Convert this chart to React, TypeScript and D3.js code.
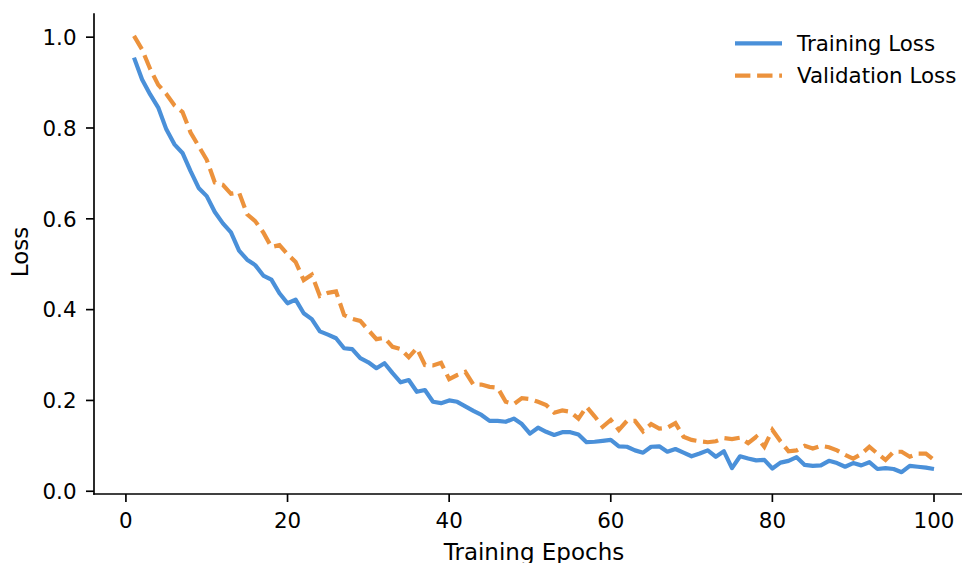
import * as d3 from "d3";

// loss values, epochs 1..100
const epochs = d3.range(1, 101);

const trainingLoss = [
  0.955, 0.907, 0.874, 0.845, 0.797, 0.764, 0.745, 0.705, 0.668, 0.65,
  0.615, 0.59, 0.57, 0.53, 0.51, 0.498, 0.475, 0.466, 0.436, 0.414,
  0.422, 0.392, 0.379, 0.352, 0.345, 0.337, 0.315, 0.313, 0.293, 0.284,
  0.271, 0.282, 0.26, 0.24, 0.245, 0.219, 0.223, 0.197, 0.194, 0.2,
  0.197, 0.187, 0.177, 0.168, 0.155, 0.155, 0.153, 0.16, 0.148, 0.127,
  0.14, 0.131, 0.124, 0.13, 0.13, 0.125, 0.108, 0.109, 0.111, 0.113,
  0.099, 0.098, 0.09, 0.085, 0.098, 0.099, 0.087, 0.093, 0.085, 0.077,
  0.083, 0.09, 0.076, 0.088, 0.051, 0.077, 0.072, 0.068, 0.069, 0.05,
  0.063, 0.067, 0.075, 0.058, 0.056, 0.057, 0.067, 0.062, 0.054, 0.062,
  0.057, 0.064, 0.049, 0.051, 0.049, 0.042, 0.056, 0.054, 0.052, 0.049,
];

const validationLoss = [
  1.003, 0.973, 0.93, 0.895, 0.875, 0.85, 0.835, 0.79, 0.76, 0.73,
  0.68, 0.675, 0.655, 0.658, 0.61, 0.595, 0.57, 0.538, 0.542, 0.522,
  0.505, 0.465, 0.477, 0.43, 0.437, 0.44, 0.388, 0.38, 0.375, 0.355,
  0.335, 0.338, 0.318, 0.313, 0.295, 0.315, 0.278, 0.277, 0.283, 0.247,
  0.256, 0.263, 0.235, 0.235, 0.23, 0.228, 0.197, 0.192, 0.205, 0.203,
  0.197, 0.19, 0.173, 0.178, 0.175, 0.16, 0.186, 0.165, 0.142, 0.157,
  0.135, 0.155, 0.155, 0.132, 0.148, 0.138, 0.14, 0.15, 0.12, 0.113,
  0.11, 0.108, 0.11, 0.117, 0.115, 0.118, 0.106, 0.12, 0.098, 0.135,
  0.11, 0.088, 0.09, 0.1, 0.094, 0.1, 0.097, 0.09, 0.08, 0.072,
  0.082, 0.098, 0.083, 0.069, 0.087, 0.087, 0.076, 0.083, 0.083, 0.069,
];

const seriesNames = ["Training Loss", "Validation Loss"];
const seriesColors = ["#4a90d9", "#ec923c"];

const W = 962;
const H = 563;
const FONT = "DejaVu Sans";
const TICK_FS = 21.4;
const LABEL_FS = 23;

function padded([lo, hi]: [number, number]): [number, number] {
  const m = (hi - lo) * 0.05;
  return [lo - m, hi + m];
}

export default function App() {
  const left = 94;
  const right = 974;
  const top = 14;
  const bottom = 494;

  const x = d3
    .scaleLinear()
    .domain(padded(d3.extent(epochs) as [number, number]))
    .range([left, right]);

  const allValues = [...trainingLoss, ...validationLoss];
  const y = d3
    .scaleLinear()
    .domain(padded(d3.extent(allValues) as [number, number]))
    .range([bottom, top]);

  const line = d3
    .line<number>()
    .x((_, i) => x(epochs[i]))
    .y((d) => y(d));

  const tickLen = 8;
  const xTicks = x.ticks(5);
  const yTicks = y.ticks(5);

  return (
    <div style={{ position: "absolute", left: 0, top: 0 }}>
      <svg width={W} height={H} style={{ display: "block", background: "#fff" }} fontFamily={FONT}>
        <path d={line(trainingLoss) ?? ""} fill="none" stroke={seriesColors[0]} strokeWidth={4.2} strokeLinejoin="round" />
        <path
          d={line(validationLoss) ?? ""}
          fill="none"
          stroke={seriesColors[1]}
          strokeWidth={4.2}
          strokeDasharray="15.4 6.7"
        />

        {/* spines */}
        <line x1={left} x2={left} y1={top} y2={bottom} stroke="#000" strokeWidth={1.67} strokeLinecap="square" />
        <line x1={left} x2={W} y1={bottom} y2={bottom} stroke="#000" strokeWidth={1.67} strokeLinecap="square" />

        {xTicks.map((t) => (
          <g key={`x${t}`} transform={`translate(${x(t)},${bottom})`}>
            <line y2={tickLen} stroke="#000" strokeWidth={1.67} />
            <text y={34.3} textAnchor="middle" fontSize={TICK_FS} fill="#000">
              {d3.format("d")(t)}
            </text>
          </g>
        ))}

        {yTicks.map((t) => (
          <g key={`y${t}`} transform={`translate(${left},${y(t)})`}>
            <line x2={-tickLen} stroke="#000" strokeWidth={1.67} />
            <text x={-17.5} dy="0.3645em" textAnchor="end" fontSize={TICK_FS} fill="#000">
              {d3.format(".1f")(t)}
            </text>
          </g>
        ))}

        <text x={534} y={560} textAnchor="middle" fontSize={LABEL_FS} fill="#000">
          Training Epochs
        </text>
        <text
          transform={`translate(28,${(top + bottom) / 2 - 2}) rotate(-90)`}
          textAnchor="middle"
          fontSize={LABEL_FS}
          fill="#000"
        >
          Loss
        </text>

        {/* legend */}
        {seriesNames.map((name, i) => {
          const ly = 43.3 + i * 32.3;
          return (
            <g key={name}>
              <line
                x1={735}
                x2={782}
                y1={ly}
                y2={ly}
                stroke={seriesColors[i]}
                strokeWidth={4.2}
                strokeDasharray={i === 1 ? "15.4 6.7" : undefined}
              />
              <text x={797} y={ly} dy="0.3645em" fontSize={TICK_FS} fill="#000">
                {name}
              </text>
            </g>
          );
        })}
      </svg>
    </div>
  );
}
